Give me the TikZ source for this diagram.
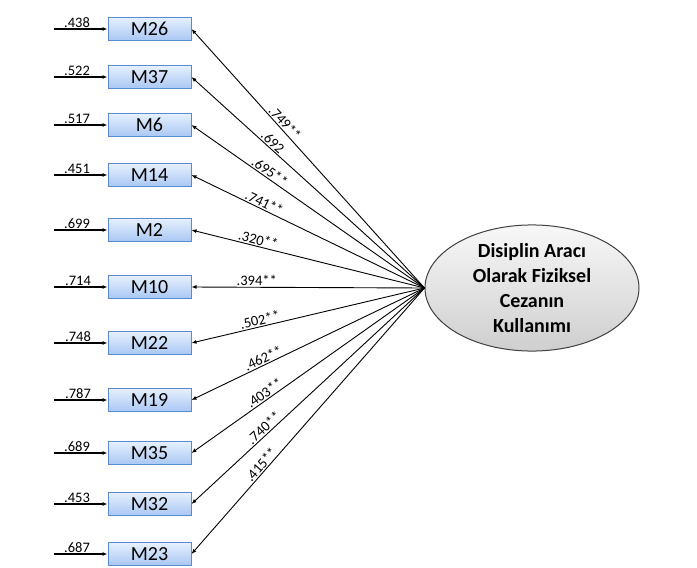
\documentclass[tikz,border=0pt]{standalone}
\usepackage{fontspec}
\setmainfont{Carlito}
\usetikzlibrary{arrows.meta,shapes.geometric}
\definecolor{boxline}{HTML}{5A8AD0}
\definecolor{boxtop}{HTML}{E6F0FE}
\definecolor{boxbot}{HTML}{A9C7F3}

\begin{document}
\begin{tikzpicture}[x=1pt, y=-1pt,
    var/.style={draw=boxline, line width=1pt, top color=boxtop, bottom color=boxbot,
      minimum width=83pt, minimum height=23pt, inner sep=0pt,
      font=\fontsize{20}{20}\selectfont},
    factor/.style={ellipse, draw=black!75, line width=1pt, top color=gray!6,
      bottom color=gray!38, minimum width=214pt, minimum height=112pt,
      inner sep=0pt, align=center, font=\fontsize{20}{25}\selectfont\bfseries},
    err/.style={line width=1.2pt, -{Latex[length=5pt,width=4pt]}},
    load/.style={line width=0.9pt, -{Latex[length=5pt,width=4pt]}},
    num/.style={font=\fontsize{14.5}{14.5}\selectfont, inner sep=1.2pt}]
    \useasboundingbox (0,0) rectangle (697,568);

    \node[factor] (F) at (532,288) {Disiplin Aracı\\Olarak Fiziksel\\Cezanın\\Kullanımı};

    \node[var] (M26) at (149.5,29)  {M26};
    \node[var] (M37) at (149.5,77)  {M37};
    \node[var] (M6)  at (149.5,125) {M6};
    \node[var] (M14) at (149.5,175) {M14};
    \node[var] (M2)  at (149.5,230) {M2};
    \node[var] (M10) at (149.5,287) {M10};
    \node[var] (M22) at (149.5,343) {M22};
    \node[var] (M19) at (149.5,400) {M19};
    \node[var] (M35) at (149.5,453) {M35};
    \node[var] (M32) at (149.5,504) {M32};
    \node[var] (M23) at (149.5,554) {M23};

    \coordinate (e26) at (54,29);
    \coordinate (e37) at (54,77);
    \coordinate (e6)  at (54,125);
    \coordinate (e14) at (54,175);
    \coordinate (e2)  at (54,230);
    \coordinate (e10) at (54,287);
    \coordinate (e22) at (54,343);
    \coordinate (e19) at (54,400);
    \coordinate (e35) at (54,453);
    \coordinate (e32) at (54,504);
    \coordinate (e23) at (54,554);

    \draw[err] (e26) -- node[num, above, pos=0.43] {.438} (M26);
    \draw[err] (e37) -- node[num, above, pos=0.43] {.522} (M37);
    \draw[err] (e6)  -- node[num, above, pos=0.43] {.517} (M6);
    \draw[err] (e14) -- node[num, above, pos=0.43] {.451} (M14);
    \draw[err] (e2)  -- node[num, above, pos=0.43] {.699} (M2);
    \draw[err] (e10) -- node[num, above, pos=0.45] {.714} (M10);
    \draw[err] (e22) -- node[num, above, pos=0.45] {.748} (M22);
    \draw[err] (e19) -- node[num, above, pos=0.45] {.787} (M19);
    \draw[err] (e35) -- node[num, above, pos=0.43] {.689} (M35);
    \draw[err] (e32) -- node[num, above, pos=0.43] {.453} (M32);
    \draw[err] (e23) -- node[num, above, pos=0.43] {.687} (M23);

    \draw[load] (F.west) -- node[num, sloped, above, pos=0.62] {.749**} (M26.east);
    \draw[load] (F.west) -- node[num, sloped, above, pos=0.67] {.692} (M37.east);
    \draw[load] (F.west) -- node[num, sloped, above, pos=0.68] {.695**} (M6.east);
    \draw[load] (F.west) -- node[num, sloped, above, pos=0.70] {.741**} (M14.east);
    \draw[load] (F.west) -- node[num, sloped, above, pos=0.72] {.320**} (M2.east);
    \draw[load] (F.west) -- node[num, sloped, above, pos=0.72] {.394**} (M10.east);
    \draw[load] (F.west) -- node[num, sloped, above, pos=0.70] {.502**} (M22.east);
    \draw[load] (F.west) -- node[num, sloped, above, pos=0.68] {.462**} (M19.east);
    \draw[load] (F.west) -- node[num, sloped, above, pos=0.67] {.403**} (M35.east);
    \draw[load] (F.west) -- node[num, sloped, above, pos=0.67] {.740**} (M32.east);
    \draw[load] (F.west) -- node[num, sloped, above, pos=0.68] {.415**} (M23.east);
\end{tikzpicture}
\end{document}
